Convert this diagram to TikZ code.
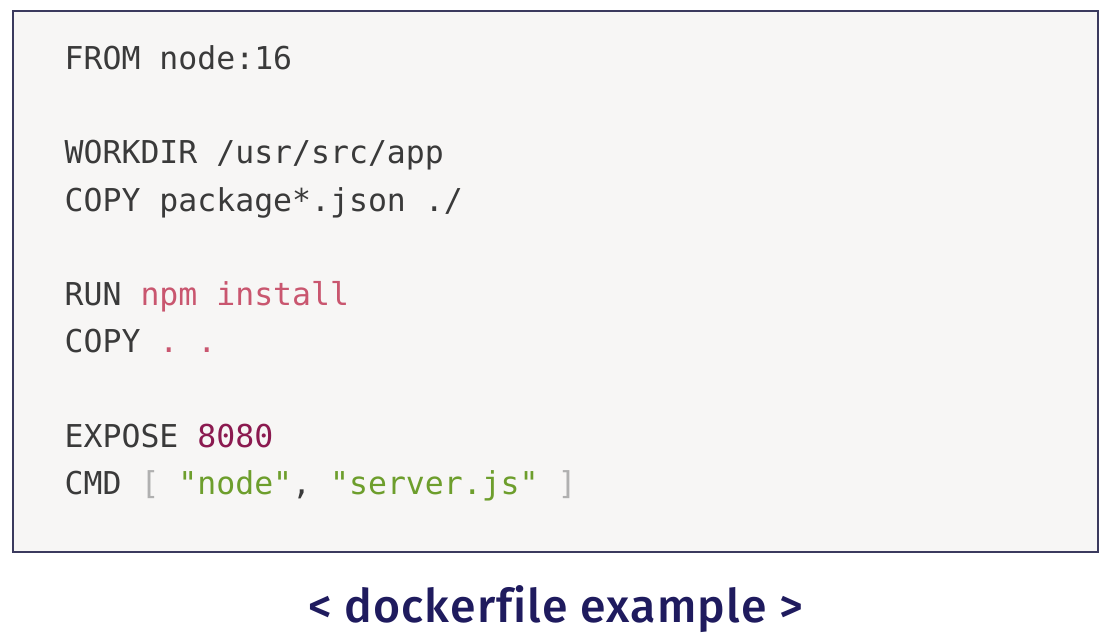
\documentclass[tikz,border=0pt]{standalone}
\usepackage{fontspec}
\setmonofont{DejaVu Sans Mono}
\newfontfamily\captionfont[Ligatures=NoCommon,LetterSpace=2.5]{Fira Sans Medium}
\definecolor{codebg}{HTML}{F7F6F5}
\definecolor{boxline}{HTML}{3B3A5E}
\definecolor{codegray}{HTML}{3A3A3A}
\definecolor{codepink}{HTML}{C9566F}
\definecolor{codenum}{HTML}{8B1A50}
\definecolor{codestr}{HTML}{6D9E2C}
\definecolor{codebrk}{HTML}{B0B0B0}
\definecolor{captionblue}{HTML}{1F1B5E}
\tikzset{
  codeline/.style={anchor=base west,inner sep=0pt,text=codegray,
    font=\ttfamily\fontsize{8.96pt}{10pt}\selectfont},
  captionline/.style={anchor=base,inner sep=0pt,text=captionblue,
    font=\captionfont\fontsize{13.2pt}{15pt}\selectfont}
}
\begin{document}
\begin{tikzpicture}[x=0.1mm,y=-0.1mm]
\useasboundingbox (0,0) rectangle (1114,642);
\draw[fill=codebg,draw=boxline,line width=0.25mm] (13,11) rectangle (1098,552);
%\draw[step=50,gray,very thin] (0,0) grid (1114,642);
\node (from)    [codeline] at (64,69)  {FROM node:16};
\node (workdir) [codeline] at (64,163) {WORKDIR /usr/src/app};
\node (copypkg) [codeline] at (64,211) {COPY package*.json ./};
\node (run)     [codeline] at (64,305) {RUN \textcolor{codepink}{npm install}};
\node (copyall) [codeline] at (64,352) {COPY \textcolor{codepink}{. .}};
\node (expose)  [codeline] at (64,447) {EXPOSE \textcolor{codenum}{8080}};
\node (cmd)     [codeline] at (64,494) {CMD \textcolor{codebrk}{[} \textcolor{codestr}{"node"}, \textcolor{codestr}{"server.js"} \textcolor{codebrk}{]}};
\node (caption) [captionline] at (555.5,622) {< dockerfile example >};
\end{tikzpicture}
\end{document}
